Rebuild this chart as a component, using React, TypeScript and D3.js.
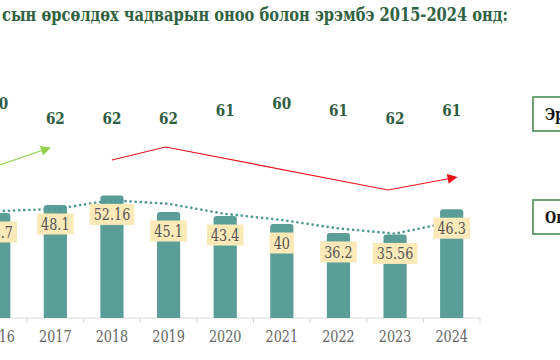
import React from 'react';
import * as d3 from 'd3';

const years = [2016, 2017, 2018, 2019, 2020, 2021, 2022, 2023, 2024];
const scores = [44.7, 48.1, 52.16, 45.1, 43.4, 40, 36.2, 35.56, 46.3];
const ranks = [60, 62, 62, 62, 61, 60, 61, 62, 61];
// 2-period moving average line
const trend = [45.5, 46.4, 50.1, 48.6, 44.3, 41.7, 38.1, 35.9, 40.9];
const legendLabels = ['Эрэмбэ', 'Оноо'];
const title = 'сын өрсөлдөх чадварын оноо болон эрэмбэ 2015-2024 онд:';

const W = 560;
const H = 360;
const axisY = 318;
const serif = 'DejaVu Serif';
const squeeze = 0.8; // DejaVu Serif is wider than the Times face in the picture

type STextProps = {
  x: number; y: number; size: number; fill: string;
  bold?: boolean; anchor?: 'start' | 'middle' | 'end'; children: React.ReactNode;
};

const SText = ({ x, y, size, fill, bold, anchor = 'middle', children }: STextProps) => (
  <text transform={`translate(${x},${y}) scale(${squeeze},1)`} dy="0.35em" textAnchor={anchor}
    fontFamily={serif} fontWeight={bold ? 'bold' : 'normal'} fontSize={size} fill={fill}>
    {children}
  </text>
);

const App: React.FC = () => {
  const x = d3.scaleBand<number>()
    .domain(years)
    .range([-29.6, 480])
    .paddingInner(0.59)
    .paddingOuter(0.295);
  const step = x.step();
  const cx = (yr: number) => (x(yr) ?? 0) + x.bandwidth() / 2;

  const y = d3.scaleLinear().domain([0, 60]).range([axisY, axisY - 141]);
  const rankY = d3.scaleLinear().domain([60, 62]).range([103, 118]);

  const trendLine = d3.line<number>()
    .x((_, i) => cx(years[i]))
    .y(d => y(d));

  // annotation arrows, anchored to the year positions
  const redPts: [number, number][] = [
    [cx(2018), 160],
    [cx(2019) - 3, 147],
    [cx(2023) - 7, 190],
    [cx(2024) - 2, 178.5],
  ];
  const greenPts: [number, number][] = [
    [cx(2016) - 2, 166],
    [cx(2017) - 12, 150],
  ];
  const arrowLine = d3.line();

  const labelW = (s: string) => s.replace('.', '').length * 8.2 + (s.includes('.') ? 4 : 0) + 8;

  return (
    <svg width={W} height={H} style={{ position: 'absolute', left: 0, top: 0, background: '#fff' }}>
      <defs>
        <marker id="redHead" viewBox="0 0 10 10" refX="2" refY="5" markerWidth="12" markerHeight="10"
          markerUnits="userSpaceOnUse" orient="auto">
          <path d="M0,0L10,5L0,10z" fill="#e8151b" />
        </marker>
        <marker id="greenHead" viewBox="0 0 10 10" refX="2" refY="5" markerWidth="12" markerHeight="10"
          markerUnits="userSpaceOnUse" orient="auto">
          <path d="M0,0L10,5L0,10z" fill="#92d050" />
        </marker>
      </defs>

      <text x={2} y={21} fontFamily={serif} fontWeight="bold" fontSize={19}
        textLength={506} lengthAdjust="spacingAndGlyphs" fill="#2f6242">{title}</text>

      {/* rank values */}
      {years.map((yr, i) => (
        <SText key={'r' + yr} x={cx(yr)} y={rankY(ranks[i])} size={17} bold fill="#2f5d43">
          {ranks[i]}
        </SText>
      ))}

      <path d={arrowLine(redPts) ?? ''} fill="none" stroke="#e8151b" strokeWidth={1.2} markerEnd="url(#redHead)" />
      <path d={arrowLine(greenPts) ?? ''} fill="none" stroke="#92d050" strokeWidth={1.2} markerEnd="url(#greenHead)" />

      {/* axis */}
      <line x1={0} x2={480} y1={axisY} y2={axisY} stroke="#d9d9d9" strokeWidth={1} />
      {d3.range(0, years.length + 1).map(i => {
        const tx = -29.6 + i * step;
        return <line key={'t' + i} x1={tx} x2={tx} y1={axisY} y2={axisY + 5} stroke="#d9d9d9" />;
      })}
      {years.map(yr => (
        <SText key={'y' + yr} x={cx(yr)} y={336} size={16} fill="#666">{yr}</SText>
      ))}

      {/* bars */}
      {years.map((yr, i) => {
        const top = y(scores[i]);
        const bw = x.bandwidth();
        const r = 3;
        const x0 = x(yr) ?? 0;
        return (
          <path key={'b' + yr}
            d={`M${x0},${axisY}V${top + r}Q${x0},${top} ${x0 + r},${top}H${x0 + bw - r}Q${x0 + bw},${top} ${x0 + bw},${top + r}V${axisY}Z`}
            fill="#5b9e98" />
        );
      })}

      <path d={trendLine(trend) ?? ''} fill="none" stroke="#4e9894" strokeWidth={2.6}
        strokeDasharray="0.1 5" strokeLinecap="round" />

      {/* value labels */}
      {years.map((yr, i) => {
        const s = String(scores[i]);
        const w = labelW(s);
        const yc = y(scores[i]) + 19;
        return (
          <g key={'l' + yr}>
            <rect x={cx(yr) - w / 2} y={yc - 10.5} width={w} height={21} fill="#fce9b8" />
            <SText x={cx(yr)} y={yc} size={16} fill="#555">{s}</SText>
          </g>
        );
      })}

      {/* legend boxes */}
      {legendLabels.map((lab, i) => {
        const by = i === 0 ? 97 : 200;
        return (
          <g key={lab}>
            <rect x={533} y={by} width={60} height={34} fill="#fff" stroke="#5e9a68" strokeWidth={1.8} />
            <SText x={545} y={by + 17} size={16} bold anchor="start" fill="#111">{lab}</SText>
          </g>
        );
      })}
    </svg>
  );
};

export default App;
